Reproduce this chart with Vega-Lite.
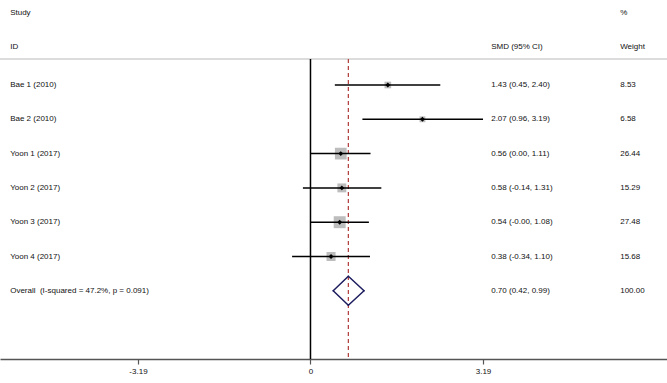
{
  "$schema": "https://vega.github.io/schema/vega-lite/v6.json",
  "width": 667,
  "height": 359,
  "autosize": {"type": "none"},
  "padding": {"left": 0, "top": 0, "right": 0, "bottom": 24},
  "background": "white",
  "config": {
    "view": {"stroke": null},
    "font": "Liberation Sans",
    "text": {"font": "Liberation Sans", "fontSize": 8, "color": "#111111", "align": "left", "baseline": "middle"}
  },
  "datasets": {
    "rows": [
      {"label": "Bae 1 (2010)", "row": 1, "est": 1.43, "lower": 0.45, "upper": 2.40, "ci": "1.43 (0.45, 2.40)", "weight": 8.53, "type": "study"},
      {"label": "Bae 2 (2010)", "row": 2, "est": 2.07, "lower": 0.96, "upper": 3.19, "ci": "2.07 (0.96, 3.19)", "weight": 6.58, "type": "study"},
      {"label": "Yoon 1 (2017)", "row": 3, "est": 0.56, "lower": 0.00, "upper": 1.11, "ci": "0.56 (0.00, 1.11)", "weight": 26.44, "type": "study"},
      {"label": "Yoon 2 (2017)", "row": 4, "est": 0.58, "lower": -0.14, "upper": 1.31, "ci": "0.58 (-0.14, 1.31)", "weight": 15.29, "type": "study"},
      {"label": "Yoon 3 (2017)", "row": 5, "est": 0.54, "lower": -0.00, "upper": 1.08, "ci": "0.54 (-0.00, 1.08)", "weight": 27.48, "type": "study"},
      {"label": "Yoon 4 (2017)", "row": 6, "est": 0.38, "lower": -0.34, "upper": 1.10, "ci": "0.38 (-0.34, 1.10)", "weight": 15.68, "type": "study"},
      {"label": "Overall\u00a0 (I-squared = 47.2%, p = 0.091)", "row": 7, "est": 0.70, "lower": 0.42, "upper": 0.99, "ci": "0.70 (0.42, 0.99)", "weight": 100.00, "type": "overall"}
    ],
    "headers": [
      {"text": "Study", "x": -5.553, "row": -1.09},
      {"text": "ID", "x": -5.553, "row": -0.115},
      {"text": "SMD (95% CI)", "x": 3.341, "row": -0.115},
      {"text": "%", "x": 5.727, "row": -1.09},
      {"text": "Weight", "x": 5.727, "row": -0.115}
    ]
  },
  "layer": [
    {
      "data": {"name": "rows"},
      "transform": [{"filter": "datum.type == 'overall'"}],
      "mark": {"type": "rule", "color": "#dcdcdc", "strokeWidth": 2},
      "encoding": {
        "y": {"datum": 0.242, "type": "quantitative", "scale": {"domain": [-1.478, 8.988], "reverse": true, "nice": false, "zero": false}, "axis": null}
      }
    },
    {
      "data": {"name": "rows"},
      "transform": [{"filter": "datum.type == 'overall'"}],
      "mark": {"type": "rule", "color": "#000000", "strokeWidth": 1.5},
      "encoding": {
        "x": {"datum": 0, "type": "quantitative"},
        "y": {"datum": 0.242, "type": "quantitative"},
        "y2": {"datum": 8.988}
      }
    },
    {
      "data": {"name": "rows"},
      "transform": [{"filter": "datum.type == 'overall'"}],
      "mark": {"type": "rule", "color": "#b03a3a", "strokeWidth": 1.2, "strokeDash": [4, 3]},
      "encoding": {
        "x": {"field": "est", "type": "quantitative"},
        "y": {"datum": 0.242, "type": "quantitative"},
        "y2": {"datum": 8.988}
      }
    },
    {
      "data": {"name": "rows"},
      "transform": [{"filter": "datum.type == 'study'"}],
      "mark": {"type": "point", "shape": "square", "filled": true, "color": "#bdbdbd", "opacity": 1},
      "encoding": {
        "x": {"field": "est", "type": "quantitative"},
        "y": {"field": "row", "type": "quantitative"},
        "size": {"field": "weight", "type": "quantitative", "scale": {"domain": [0, 100], "range": [0, 520]}, "legend": null}
      }
    },
    {
      "data": {"name": "rows"},
      "transform": [{"filter": "datum.type == 'study'"}],
      "mark": {"type": "rule", "color": "#000000", "strokeWidth": 1.5},
      "encoding": {
        "x": {"field": "lower", "type": "quantitative", "scale": {"domain": [-5.741, 6.592], "nice": false, "zero": false},
          "axis": {"values": [-3.19, 0, 3.19], "labelExpr": "'' + datum.value", "title": null, "grid": false,
            "domainColor": "#555555", "domainWidth": 1.5, "tickColor": "#555555", "tickWidth": 1.2, "tickSize": 5,
            "labelFont": "Liberation Sans", "labelFontSize": 8, "labelColor": "#111111", "labelPadding": 3}},
        "x2": {"field": "upper"},
        "y": {"field": "row", "type": "quantitative"}
      }
    },
    {
      "data": {"name": "rows"},
      "transform": [{"filter": "datum.type == 'study'"}],
      "mark": {"type": "point", "shape": "diamond", "filled": true, "color": "#000000", "size": 24, "opacity": 1},
      "encoding": {
        "x": {"field": "est", "type": "quantitative"},
        "y": {"field": "row", "type": "quantitative"}
      }
    },
    {
      "data": {"name": "rows"},
      "transform": [{"filter": "datum.type == 'overall'"}],
      "mark": {"type": "rule", "color": "#1c1c5e", "strokeWidth": 1.5, "strokeCap": "round", "y2Offset": -14.5},
      "encoding": {
        "x": {"field": "lower", "type": "quantitative"},
        "x2": {"field": "est"},
        "y": {"field": "row", "type": "quantitative"},
        "y2": {"field": "row"}
      }
    },
    {
      "data": {"name": "rows"},
      "transform": [{"filter": "datum.type == 'overall'"}],
      "mark": {"type": "rule", "color": "#1c1c5e", "strokeWidth": 1.5, "strokeCap": "round", "y2Offset": 14.5},
      "encoding": {
        "x": {"field": "lower", "type": "quantitative"},
        "x2": {"field": "est"},
        "y": {"field": "row", "type": "quantitative"},
        "y2": {"field": "row"}
      }
    },
    {
      "data": {"name": "rows"},
      "transform": [{"filter": "datum.type == 'overall'"}],
      "mark": {"type": "rule", "color": "#1c1c5e", "strokeWidth": 1.5, "strokeCap": "round", "yOffset": -14.5},
      "encoding": {
        "x": {"field": "est", "type": "quantitative"},
        "x2": {"field": "upper"},
        "y": {"field": "row", "type": "quantitative"},
        "y2": {"field": "row"}
      }
    },
    {
      "data": {"name": "rows"},
      "transform": [{"filter": "datum.type == 'overall'"}],
      "mark": {"type": "rule", "color": "#1c1c5e", "strokeWidth": 1.5, "strokeCap": "round", "yOffset": 14.5},
      "encoding": {
        "x": {"field": "est", "type": "quantitative"},
        "x2": {"field": "upper"},
        "y": {"field": "row", "type": "quantitative"},
        "y2": {"field": "row"}
      }
    },
    {
      "data": {"name": "rows"},
      "mark": {"type": "text"},
      "encoding": {
        "x": {"datum": -5.553, "type": "quantitative"},
        "y": {"field": "row", "type": "quantitative"},
        "text": {"field": "label"}
      }
    },
    {
      "data": {"name": "rows"},
      "mark": {"type": "text"},
      "encoding": {
        "x": {"datum": 3.341, "type": "quantitative"},
        "y": {"field": "row", "type": "quantitative"},
        "text": {"field": "ci"}
      }
    },
    {
      "data": {"name": "rows"},
      "mark": {"type": "text"},
      "encoding": {
        "x": {"datum": 5.727, "type": "quantitative"},
        "y": {"field": "row", "type": "quantitative"},
        "text": {"field": "weight", "type": "quantitative", "format": ".2f"}
      }
    },
    {
      "data": {"name": "headers"},
      "mark": {"type": "text"},
      "encoding": {
        "x": {"field": "x", "type": "quantitative"},
        "y": {"field": "row", "type": "quantitative"},
        "text": {"field": "text"}
      }
    }
  ]
}
